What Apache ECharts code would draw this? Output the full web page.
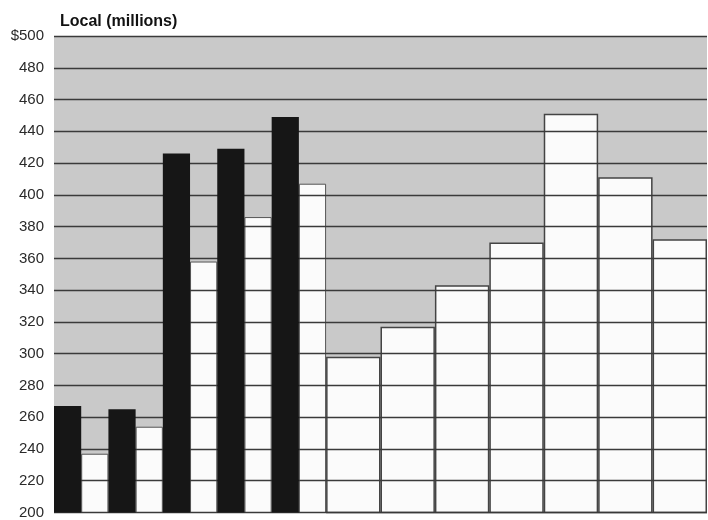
<!DOCTYPE html>
<html>
<head>
<meta charset="utf-8">
<script src="https://cdn.jsdelivr.net/npm/echarts@6/dist/echarts.min.js"></script>
<style>
  html, body { margin: 0; padding: 0; background: #fff; }
  #chart { width: 708px; height: 520px; }
</style>
</head>
<body>
<div id="chart"></div>
<script>
// 12 periods, no labels printed on the x axis
const periods = ['1', '2', '3', '4', '5', '6', '7', '8', '9', '10', '11', '12']
// paired bars in the first five periods
const blackValues = [267, 265, 426, 429, 449, null, null, null, null, null, null, null]
const pairedWhite = [237, 254, 358, 386, 407, null, null, null, null, null, null, null]
// wide single bars afterwards
const wideWhite = [null, null, null, null, null, 298, 317, 343, 370, 451, 411, 372]

let myChart = echarts.init(document.getElementById('chart'))
let option = {
    animation: false,
    backgroundColor: '#fff',
    title: {
        text: 'Local (millions)',
        left: 55,
        top: 9,
        textStyle: {
            fontFamily: 'Liberation Sans',
            fontSize: 16,
            fontWeight: 'bold',
            color: '#111'
        }
    },
    grid: {
        left: 54,
        right: 1,
        top: 36,
        bottom: 3,
        show: true,
        backgroundColor: '#c9c9c9',
        borderWidth: 0
    },
    xAxis: [
        {
            type: 'category',
            data: periods,
            show: false
        },
        {
            type: 'category',
            data: periods,
            show: false
        }
    ],
    yAxis: {
        type: 'value',
        min: 200,
        max: 500,
        interval: 20,
        z: 3,
        axisLine: { show: false },
        axisTick: { show: false },
        axisLabel: {
            margin: 10,
            fontFamily: 'Liberation Sans',
            fontSize: 15,
            color: '#2a2a2a',
            formatter: function (v) {
                return v === 500 ? '$500' : String(v)
            }
        },
        splitLine: {
            lineStyle: { color: '#3a3a3a', width: 1.3 }
        }
    },
    series: [
        {
            name: 'wide',
            type: 'bar',
            xAxisIndex: 0,
            data: wideWhite,
            barWidth: '100%',
            z: 2,
            itemStyle: {
                color: '#fbfbfb',
                borderColor: '#444',
                borderWidth: 1.5
            }
        },
        {
            name: 'black',
            type: 'bar',
            xAxisIndex: 1,
            data: blackValues,
            barGap: '0%',
            barCategoryGap: '0%',
            z: 5,
            itemStyle: {
                color: '#161616'
            }
        },
        {
            name: 'white',
            type: 'bar',
            xAxisIndex: 1,
            data: pairedWhite,
            z: 2,
            itemStyle: {
                color: '#fbfbfb',
                borderColor: '#555',
                borderWidth: 1
            }
        }
    ]
}
myChart.setOption(option)
</script>
</body>
</html>
